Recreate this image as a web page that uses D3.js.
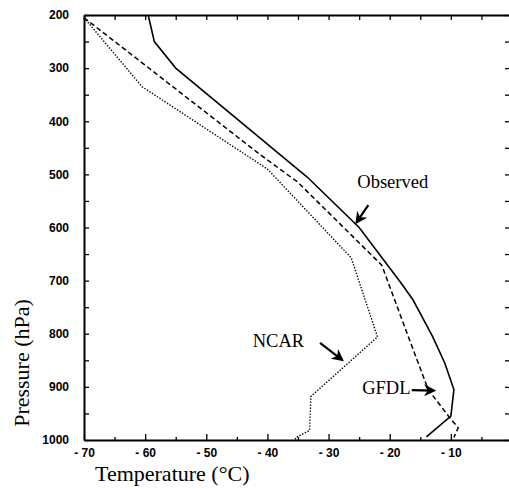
<!DOCTYPE html>
<html>
<head>
<meta charset="utf-8">
<script src="https://cdn.jsdelivr.net/npm/d3@7"></script>
<style>
  body { margin: 0; background: #fff; overflow: hidden; }
  svg { display: block; }
</style>
</head>
<body>
<svg id="chart"></svg>
<script>
// temperature profiles, [temperature degC, pressure hPa]
const observed = [[-59.5, 200], [-58.5, 250], [-55, 300], [-33.5, 505], [-25, 600],
    [-18.3, 702], [-16.2, 736], [-13, 805], [-11, 855], [-9.5, 905], [-10, 955], [-14, 994]];
const gfdl = [[-70, 205], [-41.5, 460], [-35, 515], [-21.3, 671], [-17.3, 795],
    [-13.7, 905], [-10.2, 958], [-8.8, 977], [-9.5, 995]];
const ncar = [[-70, 205], [-60.5, 335], [-40, 490], [-26.3, 657], [-22, 806],
    [-32.9, 918], [-33.1, 982], [-35.3, 995], [-35.5, 1000]];

const tempTicks = [-70, -60, -50, -40, -30, -20, -10, 0];
const tempMinor = [-65, -55, -45, -35, -25, -15, -5];
const presTicks = [200, 300, 400, 500, 600, 700, 800, 900, 1000];
const presMinor = [250, 350, 450, 550, 650, 750, 850, 950];

// label text position and arrow from/to, in data units
const notes = [
    { text: "Observed", at: [-25.3, 525], from: [-23.5, 558], to: [-25.4, 590] },
    { text: "NCAR", at: [-42.4, 825], from: [-31.4, 817], to: [-27.8, 849] },
    { text: "GFDL", at: [-24.5, 913], from: [-16.4, 906], to: [-12.8, 907] }
];

const width = 509, height = 489;
const svg = d3.select("#chart").attr("width", width).attr("height", height);

const x = d3.scaleLinear().domain([-70, 0]).range([84, 512]);
const y = d3.scaleLinear().domain([200, 1000]).range([15, 440]);

const serif = '"Liberation Serif"';
const styleTicks = g => g.selectAll("text")
    .style("font-family", '"Liberation Sans"')
    .style("font-size", "12px").style("font-weight", "bold").attr("fill", "#000");
const fmt = d => d < 0 ? "- " + Math.abs(d) : String(d);

// bottom axis, major with labels
svg.append("g")
    .attr("transform", `translate(0,${y(1000)})`)
    .call(d3.axisBottom(x).tickValues(tempTicks).tickFormat(fmt).tickSize(-6).tickSizeOuter(0).tickPadding(8))
    .call(styleTicks);
svg.append("g")
    .attr("transform", `translate(0,${y(1000)})`)
    .call(d3.axisBottom(x).tickValues(tempMinor).tickFormat("").tickSize(-3).tickSizeOuter(0))
    .call(g => g.select(".domain").remove());

// top axis
svg.append("g")
    .attr("transform", `translate(0,${y(200)})`)
    .call(d3.axisTop(x).tickValues(tempTicks.concat(tempMinor)).tickFormat("").tickSize(-5).tickSizeOuter(0));

// left axis
svg.append("g")
    .attr("transform", `translate(${x(-70)},0)`)
    .call(d3.axisLeft(y).tickValues(presTicks).tickFormat(d3.format("d")).tickSize(-5).tickSizeOuter(0).tickPadding(15))
    .call(styleTicks);
svg.append("g")
    .attr("transform", `translate(${x(-70)},0)`)
    .call(d3.axisLeft(y).tickValues(presMinor).tickFormat("").tickSize(-5).tickSizeOuter(0))
    .call(g => g.select(".domain").remove());

// right axis (mostly past the edge)
svg.append("g")
    .attr("transform", `translate(${x(0)},0)`)
    .call(d3.axisRight(y).tickValues(presTicks.concat(presMinor)).tickFormat("").tickSize(-7).tickSizeOuter(0));

svg.selectAll(".domain").attr("stroke", "#000").attr("stroke-width", 2);
svg.selectAll(".tick line").attr("stroke", "#000").attr("stroke-width", 1.3);

const line = d3.line().x(d => x(d[0])).y(d => y(d[1]));

svg.append("path").datum(observed).attr("d", line)
    .attr("fill", "none").attr("stroke", "#000").attr("stroke-width", 1.6);
svg.append("path").datum(gfdl).attr("d", line)
    .attr("fill", "none").attr("stroke", "#000").attr("stroke-width", 1.5)
    .attr("stroke-dasharray", "5,3");
svg.append("path").datum(ncar).attr("d", line)
    .attr("fill", "none").attr("stroke", "#000").attr("stroke-width", 1.4)
    .attr("stroke-dasharray", "1.4,1.6");

// arrowhead
svg.append("defs").append("marker")
    .attr("id", "head")
    .attr("viewBox", "0 0 10 10")
    .attr("refX", 8).attr("refY", 5)
    .attr("markerWidth", 5.5).attr("markerHeight", 5.5)
    .attr("orient", "auto")
    .append("path").attr("d", "M0,0 L10,5 L0,10 L3,5 Z").attr("fill", "#000");

notes.forEach(n => {
    svg.append("text")
        .attr("x", x(n.at[0])).attr("y", y(n.at[1]))
        .style("font-family", serif).style("font-size", "18.5px")
        .attr("fill", "#000")
        .text(n.text);
    svg.append("line")
        .attr("x1", x(n.from[0])).attr("y1", y(n.from[1]))
        .attr("x2", x(n.to[0])).attr("y2", y(n.to[1]))
        .attr("stroke", "#000").attr("stroke-width", 2.2)
        .attr("marker-end", "url(#head)");
});

// axis titles
svg.append("text")
    .attr("x", 95).attr("y", 481)
    .style("font-family", serif).style("font-size", "22px")
    .attr("fill", "#000")
    .text("Temperature (°C)");

svg.append("text")
    .attr("transform", "translate(29,363) rotate(-90)")
    .attr("text-anchor", "middle")
    .style("font-family", serif).style("font-size", "22px")
    .attr("fill", "#000")
    .text("Pressure (hPa)");
</script>
</body>
</html>
